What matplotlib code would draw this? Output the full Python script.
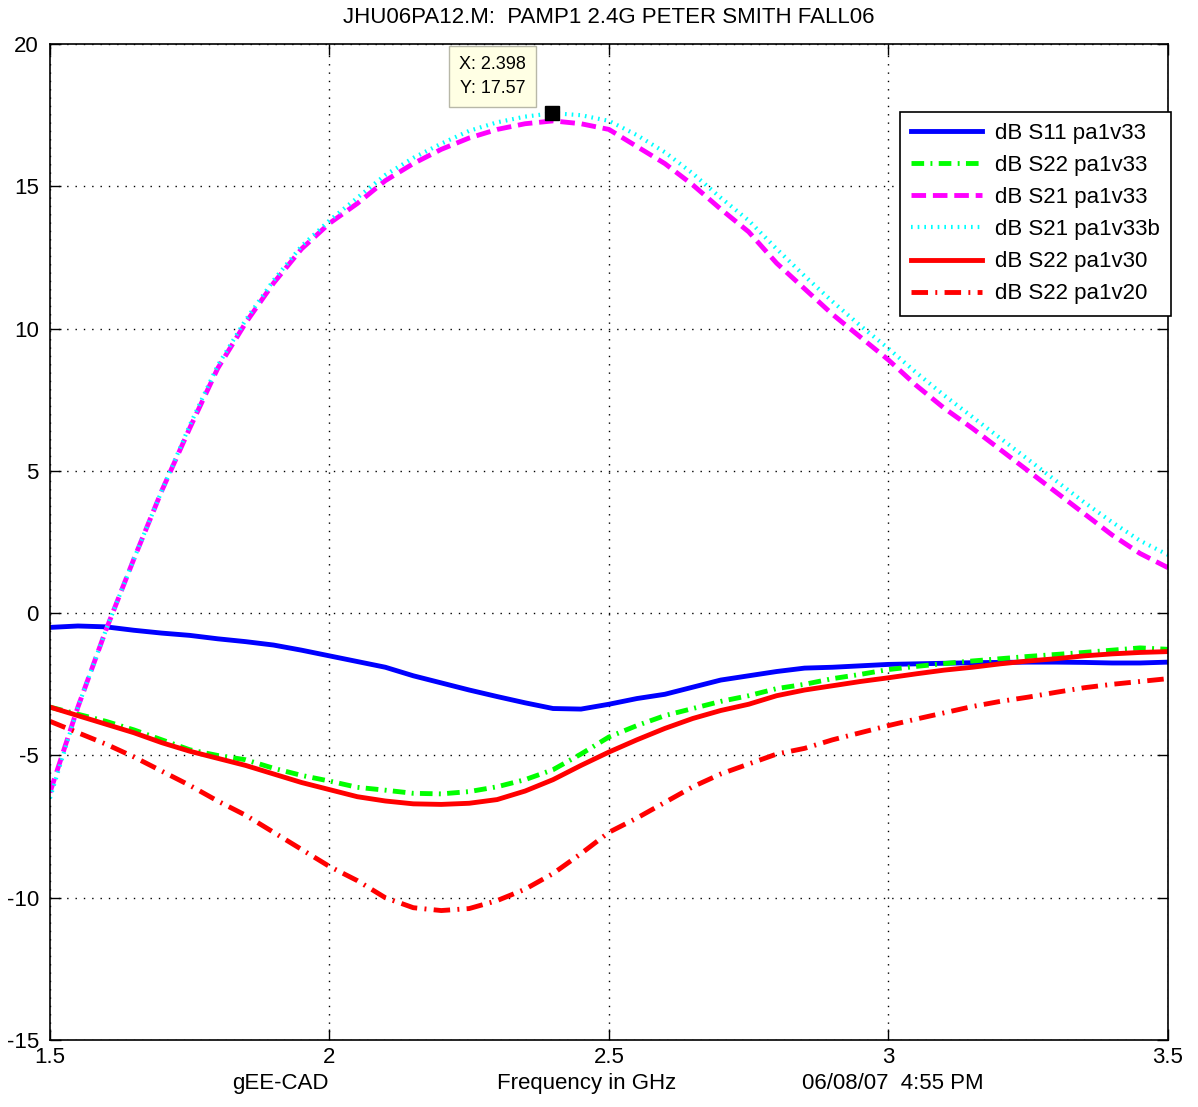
import matplotlib
matplotlib.use('Agg')
import matplotlib.pyplot as plt
import numpy as np

plt.rcParams['font.family'] = ['Liberation Sans', 'DejaVu Sans']
plt.rcParams['axes.unicode_minus'] = False

# frequency sweep, GHz
freq = np.round(np.arange(1.5, 3.5001, 0.05), 3)

# dB S11 pa1v33
s11_v33 = [-0.5, -0.45, -0.48, -0.6, -0.7, -0.78, -0.9, -1.0, -1.12, -1.3,
           -1.5, -1.7, -1.9, -2.2, -2.45, -2.7, -2.93, -3.15, -3.35, -3.37,
           -3.2, -3.0, -2.85, -2.6, -2.35, -2.2, -2.05, -1.93, -1.9, -1.85,
           -1.8, -1.78, -1.76, -1.74, -1.73, -1.72, -1.72, -1.73, -1.75, -1.75,
           -1.72]
# dB S22 pa1v33
s22_v33 = [-3.3, -3.55, -3.8, -4.1, -4.45, -4.8, -5.0, -5.15, -5.45, -5.7,
           -5.9, -6.12, -6.22, -6.33, -6.35, -6.27, -6.1, -5.85, -5.5, -4.95,
           -4.35, -3.95, -3.6, -3.35, -3.1, -2.9, -2.65, -2.5, -2.3, -2.15,
           -1.98, -1.87, -1.77, -1.68, -1.6, -1.52, -1.45, -1.38, -1.3, -1.22,
           -1.27]
# dB S21 pa1v33
s21_v33 = [-6.3, -3.3, -0.6, 1.9, 4.3, 6.5, 8.6, 10.2, 11.6, 12.8,
           13.7, 14.4, 15.2, 15.8, 16.3, 16.7, 17.0, 17.2, 17.3, 17.2,
           17.0, 16.4, 15.8, 15.05, 14.2, 13.4, 12.3, 11.4, 10.5, 9.7,
           8.9, 8.0, 7.2, 6.5, 5.75, 5.0, 4.25, 3.5, 2.75, 2.1,
           1.6]
# dB S21 pa1v33b
s21_v33b = [-6.5, -3.3, -0.6, 1.9, 4.3, 6.6, 8.7, 10.3, 11.7, 12.9,
            13.8, 14.6, 15.4, 16.0, 16.5, 16.95, 17.25, 17.45, 17.57, 17.5,
            17.3, 16.8, 16.2, 15.45, 14.6, 13.8, 12.8, 11.85, 10.95, 10.1,
            9.3, 8.45, 7.65, 6.9, 6.15, 5.4, 4.65, 3.9, 3.2, 2.55,
            2.05]
# dB S22 pa1v30
s22_v30 = [-3.3, -3.6, -3.9, -4.2, -4.55, -4.85, -5.1, -5.35, -5.65, -5.95,
           -6.2, -6.45, -6.6, -6.7, -6.72, -6.68, -6.55, -6.25, -5.85, -5.35,
           -4.88, -4.45, -4.05, -3.7, -3.42, -3.2, -2.9, -2.7, -2.55, -2.4,
           -2.27, -2.13, -2.0, -1.9, -1.78, -1.68, -1.6, -1.5, -1.43, -1.38,
           -1.35]
# dB S22 pa1v20
s22_v20 = [-3.8, -4.2, -4.6, -5.05, -5.55, -6.05, -6.6, -7.1, -7.7, -8.3,
           -8.9, -9.4, -10.0, -10.35, -10.45, -10.38, -10.1, -9.7, -9.15, -8.45,
           -7.7, -7.2, -6.65, -6.1, -5.65, -5.3, -4.95, -4.75, -4.45, -4.2,
           -3.95, -3.72, -3.5, -3.28, -3.1, -2.95, -2.78, -2.62, -2.5, -2.4,
           -2.3]

# data tip on the peak of S21 pa1v33b
tip_x = 2.398
tip_y = 17.57

x_ticks = [1.5, 2, 2.5, 3, 3.5]
x_tick_labels = ['1.5', '2', '2.5', '3', '3.5']
y_ticks = [-15, -10, -5, 0, 5, 10, 15, 20]

fig = plt.figure(figsize=(11.98, 11.07), dpi=100)
ax = fig.add_axes([0.0417, 0.0605, 0.9332, 0.8997])

lw = 3.5
ax.plot(freq, s11_v33, color='#0000ff', lw=lw, label='dB S11 pa1v33')
ax.plot(freq, s22_v33, color='#00ff00', lw=lw, ls=(0, (2.6, 1.3, 0.4, 1.3)),
        label='dB S22 pa1v33')
ax.plot(freq, s21_v33, color='#ff00ff', lw=lw, ls=(0, (3.0, 1.4)),
        label='dB S21 pa1v33')
ax.plot(freq, s21_v33b, color='#00ffff', lw=3.0, ls=(0, (0.4, 1.2)),
        label='dB S21 pa1v33b')
ax.plot(freq, s22_v30, color='#ff0000', lw=lw, label='dB S22 pa1v30')
ax.plot(freq, s22_v20, color='#ff0000', lw=lw, ls=(0, (3.4, 1.5, 0.4, 1.5)),
        label='dB S22 pa1v20')

ax.set_xlim(1.5, 3.5)
ax.set_ylim(-15, 20)
ax.set_xticks(x_ticks)
ax.set_xticklabels(x_tick_labels)
ax.set_yticks(y_ticks)
ax.tick_params(direction='in', length=8, width=1, top=True, right=True,
               labelsize=16, pad=5)
ax.tick_params(axis='y', pad=8)
ax.grid(True, color='black', ls=(0, (1, 5)), lw=1)
for s in ax.spines.values():
    s.set_linewidth(1.2)

ax.set_title('JHU06PA12.M:  PAMP1 2.4G PETER SMITH FALL06', fontsize=16, pad=15)

fig.text(0.234, 0.0208, 'gEE-CAD', fontsize=16, ha='center', va='center')
fig.text(0.490, 0.0208, 'Frequency in GHz', fontsize=16, ha='center', va='center')
fig.text(0.745, 0.0208, '06/08/07  4:55 PM', fontsize=16, ha='center', va='center')

leg = ax.legend(loc='upper right', bbox_to_anchor=(1.003, 0.932),
                borderaxespad=0, fontsize=16, fancybox=False, framealpha=1,
                edgecolor='black', handlelength=3.2, handletextpad=0.6,
                labelspacing=0.5, borderpad=0.5)
leg.get_frame().set_linewidth(1.2)

# data cursor marker and its tip box
ax.plot([tip_x], [tip_y], marker='s', ms=10, color='black', zorder=6,
        clip_on=False)
ax.annotate(f'X: {tip_x}\nY: {tip_y}', xy=(tip_x, tip_y), xycoords='data',
            xytext=(-26, 16), textcoords='offset pixels', ha='right',
            va='bottom', fontsize=13, linespacing=1.55, zorder=7,
            annotation_clip=False,
            bbox=dict(boxstyle='square,pad=0.55', fc='#ffffe4', ec='#b8b8a8',
                      lw=1))

fig.savefig('out.png', dpi=100)
